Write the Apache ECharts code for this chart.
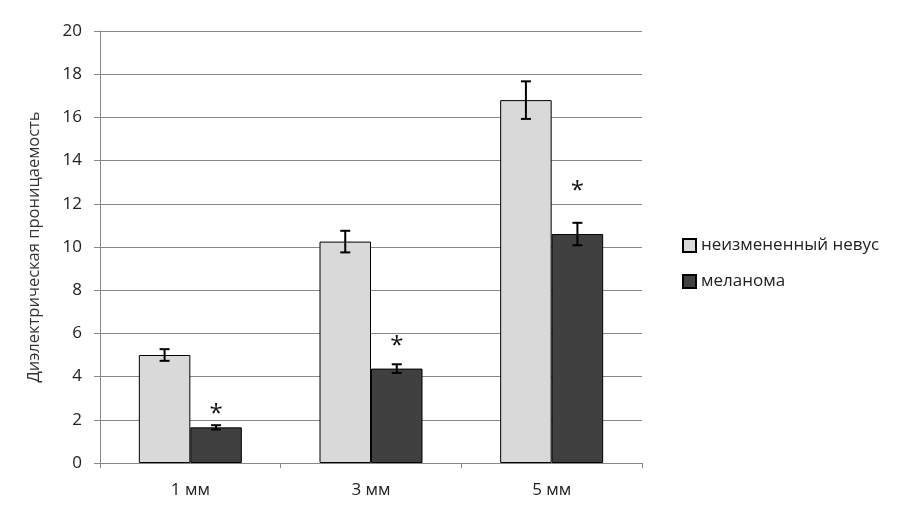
<!DOCTYPE html>
<html><head><meta charset="utf-8">
<script src="https://cdn.jsdelivr.net/npm/echarts@6/dist/echarts.min.js"></script>
<style>html,body{margin:0;padding:0;background:#fff}#c{width:904px;height:522px}</style>
</head><body><div id="c"></div>
<script>
const categories = ['1 мм', '3 мм', '5 мм'];
const seriesNames = ['неизмененный невус', 'меланома'];
const nevus = [5.0, 10.25, 16.8];
const nevusErr = [0.27, 0.5, 0.87];
const melanoma = [1.65, 4.37, 10.6];
const melanomaErr = [0.1, 0.2, 0.52];
const asteriskY = [2.45, 5.6, 12.75];
const yTicks = [0, 2, 4, 6, 8, 10, 12, 14, 16, 18, 20];

const FONT = '"Open Sans", sans-serif';
const chart = echarts.init(document.getElementById('c'));

function errSeries(vals, errs, idx) {
  return {
    type: 'custom', z: 10, silent: true,
    data: vals.map((v, i) => [i, v, errs[i]]),
    renderItem: function (params, api) {
      const i = api.value(0), v = api.value(1), e = api.value(2);
      const base = api.coord([i, v]);
      const bw = 51.5;
      const x = base[0] + (idx === 0 ? -bw / 2 : bw / 2);
      const top = api.coord([i, v + e])[1];
      const bot = api.coord([i, v - e])[1];
      const st = { stroke: '#000', lineWidth: 2 };
      return { type: 'group', children: [
        { type: 'line', shape: { x1: x, y1: top, x2: x, y2: bot }, style: st },
        { type: 'line', shape: { x1: x - 5, y1: top, x2: x + 5, y2: top }, style: st },
        { type: 'line', shape: { x1: x - 5, y1: bot, x2: x + 5, y2: bot }, style: st }
      ]};
    }
  };
}

chart.setOption({
  animation: false,
  backgroundColor: '#fff',
  grid: { left: 100, right: 262, top: 31, bottom: 59 },
  legend: {
    orient: 'vertical', left: 677, top: 232, itemGap: 19,
    itemWidth: 13, itemHeight: 13,
    textStyle: { fontFamily: FONT, fontSize: 17, color: '#222' },
    data: seriesNames.map(n => ({ name: n, icon: 'rect' }))
  },
  xAxis: {
    type: 'category', data: categories,
    axisLine: { lineStyle: { color: '#888', width: 1 } },
    axisTick: { show: true, length: 5, lineStyle: { color: '#888' } },
    axisLabel: { fontFamily: FONT, fontSize: 17, color: '#222', margin: 19 }
  },
  yAxis: {
    type: 'value', min: 0, max: 20, interval: 2,
    name: 'Диэлектрическая проницаемость', nameLocation: 'middle', nameGap: 57,
    nameTextStyle: { fontFamily: FONT, fontSize: 16.5, color: '#333' },
    axisLine: { show: true, lineStyle: { color: '#888', width: 1 } },
    axisTick: { show: true, length: 6, lineStyle: { color: '#888' } },
    splitLine: { lineStyle: { color: '#888', width: 1 } },
    axisLabel: { fontFamily: FONT, fontSize: 17, color: '#222', margin: 18,
      formatter: v => yTicks.includes(v) ? String(v) : '' }
  },
  series: [
    { name: seriesNames[0], type: 'bar', data: nevus, barWidth: 51.5, barGap: '0%',
      itemStyle: { color: '#d9d9d9', borderColor: '#000', borderWidth: 1 } },
    { name: seriesNames[1], type: 'bar', data: melanoma, barWidth: 51.5, barGap: '0%',
      itemStyle: { color: '#404040', borderColor: '#000', borderWidth: 1 } },
    errSeries(nevus, nevusErr, 0),
    errSeries(melanoma, melanomaErr, 1),
    { type: 'custom', z: 11, silent: true,
      data: asteriskY.map((v, i) => [i, v]),
      renderItem: function (params, api) {
        const p = api.coord([api.value(0), api.value(1)]);
        return { type: 'text', style: { text: '*', x: p[0] + 25.75, y: p[1] + 4,
          align: 'center', verticalAlign: 'middle', fontFamily: FONT, fontSize: 24, fill: '#111' } };
      } }
  ]
});
</script></body></html>
